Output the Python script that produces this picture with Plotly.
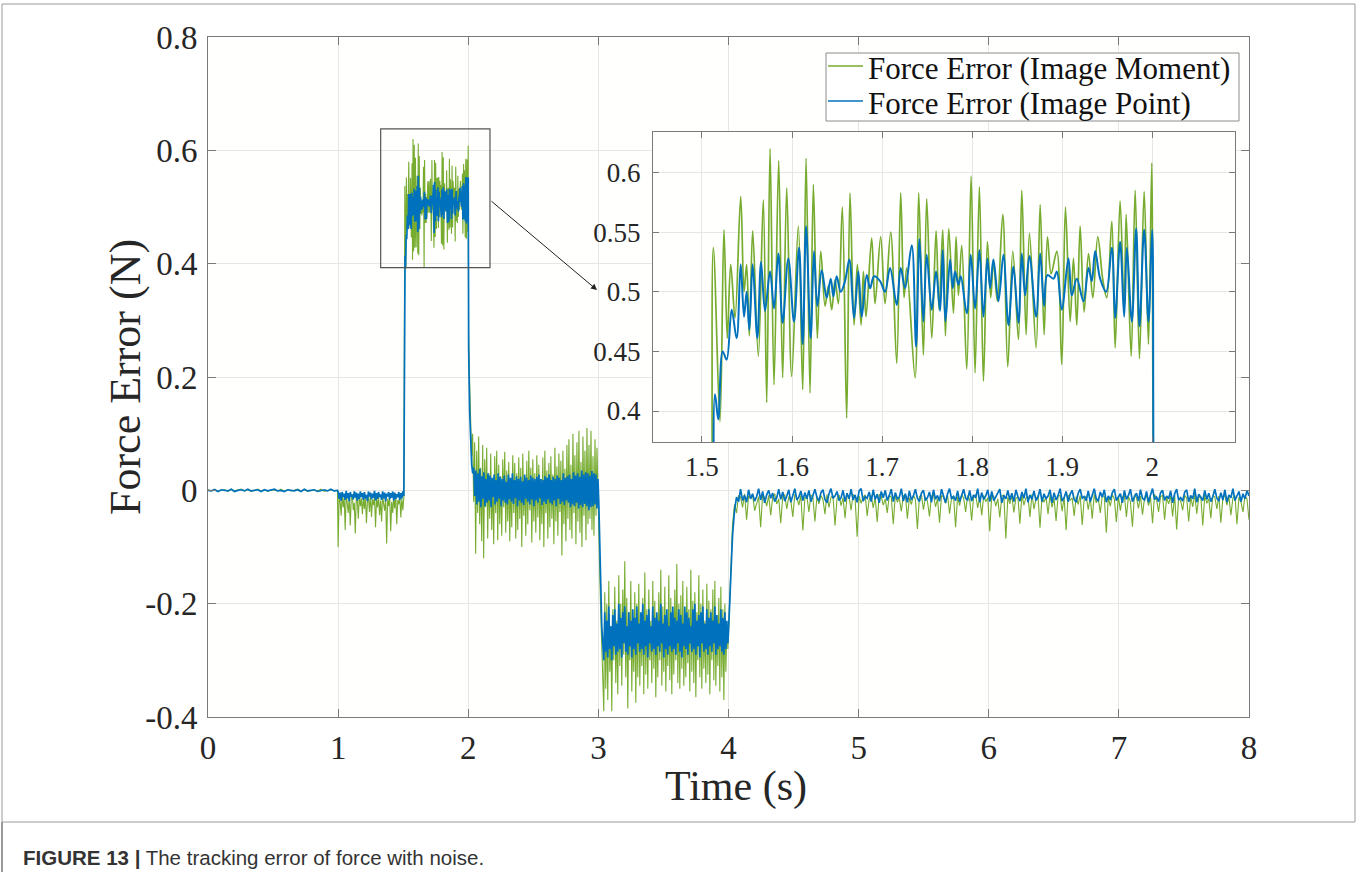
import numpy as np
import plotly.graph_objects as go

GREEN = "#77AC30"
BLUE = "#0072BD"

# ---------------- data (force error, in mN) ----------------
# Segment A: 0 - 1 s
green_A = [1,-1,2,-2,0,1,-2,2,-1,0,2,-1,1,-2,0,2,-1,1,-2,1,0,-1,2,-2,1,-1,0,2,-1,1,-2,0,1,-1,2,-2,0,1,-1,0]
blue_A = [0,-1,1,-2,1,0,-1,2,-2,0,1,-1,2,-1,0,1,-2,1,-1,0,2,-1,0,-2,1,0,-1,1,-2,2,-1,0,1,-2,0,1,-1,2,-1,0]

# Segment B: 1 - 1.505 s
green_B = [-100,-8,-20,-45,-6,-30,-12,-70,-5,-25,-40,-10,-62,-15,-8,-35,-22,-76,-9,-18,-50,-7,-28,-14,-42,-11,-33,-8,-58,-20,
           -12,-38,-6,-47,-16,-26,-9,-65,-13,-30,-10,-44,-18,-55,-7,-24,-36,-12,-94,-15,-28,-9,-72,-20,-40,-11,-32,-8,-60,-17,
           -25,-10,-48,-14,-35,-12]
blue_B = [-2,-15,-4,-18,-3,-12,-6,-17,-1,-14,-5,-19,-3,-11,-7,-16,-2,-13,-4,-18,-6,-15,-2,-12,-5,-17,-3,-14,-8,-19,
          -2,-11,-4,-16,-6,-13,-1,-18,-5,-15,-3,-12,-7,-17,-2,-14,-4,-19,-6,-11,-3,-16,-5,-13,-2,-18,-4,-15,-7,-12,
          -3,-17,-5,-14,-2,-10]

# Segment C: 1.5 - 2.0 s (times in ms after 1.5 s)
green_C_ms = [12.6,20.0,24.4,28.1,31.9,36.7,43.0,46.7,49.6,52.6,56.3,62.6,68.1,71.9,75.6,80.0,85.2,89.6,94.1,99.6,
              107.0,111.9,115.6,120.0,123.7,128.1,131.9,136.7,140.4,144.1,147.8,151.5,155.9,160.7,164.4,168.9,172.6,176.7,179.3,182.2,
              188.5,192.2,198.5,203.3,209.6,216.3,220.7,224.4,227.4,236.7,240.7,245.9,249.6,255.2,260.0,263.3,267.4,270.4,274.1,279.3,
              282.2,284.8,288.5,294.1,298.9,303.3,308.1,312.6,317.0,320.7,323.7,328.1,334.1,339.6,345.2,351.5,355.2,360.0,363.7,371.1,
              375.6,380.0,383.7,387.8,394.1,399.6,403.7,408.9,412.6,416.3,420.0,424.4,429.3,434.1,439.6,445.2,449.6,455.2,458.9,464.4,
              468.9,471.1,476.7,481.1,485.9,491.1,495.9,499.6]
green_C = [537,391,552,461,523,478,580,500,523,463,551,446,577,407,620,422,610,428,587,429,
           555,418,612,415,590,461,534,488,505,485,510,490,571,394,583,472,523,472,517,479,
           545,490,546,490,550,440,583,495,520,428,583,447,578,461,551,485,552,463,553,482,
           546,497,539,435,597,432,588,425,542,495,525,492,565,437,534,460,585,464,549,453,
           573,464,546,515,534,439,571,475,528,472,555,483,532,495,546,510,495,559,453,576,
           483,565,446,585,444,584,456,608]
blue_C_ms = [14.4,18.1,23.0,27.4,33.0,38.5,43.0,46.7,49.6,52.6,56.3,61.5,65.6,70.0,75.6,80.0,84.8,89.6,95.9,102.2,
             107.8,111.9,115.6,120.7,124.4,128.1,133.0,138.5,143.0,145.9,149.6,154.1,158.9,163.7,168.9,173.7,177.4,183.0,186.7,191.1,
             197.8,203.3,208.9,216.3,220.7,225.6,233.0,237.8,241.5,245.9,249.6,255.2,260.0,264.4,267.4,270.4,275.6,278.5,281.1,284.8,
             287.4,294.1,298.5,303.3,308.1,312.6,317.0,320.0,323.7,329.3,334.8,340.4,345.9,351.5,355.2,358.9,363.7,371.1,375.6,380.0,
             383.7,390.4,394.1,399.6,407.0,410.7,416.3,423.7,429.3,433.0,436.7,442.2,448.9,455.2,458.9,464.4,468.9,471.9,477.4,482.2,
             485.9,491.1,495.9,500.0]
blue_C = [414,393,450,443,485,461,523,479,500,468,523,461,525,484,517,486,532,474,528,475,
          537,456,555,461,534,488,518,495,511,496,513,500,509,527,478,517,479,514,503,513,
          509,500,520,489,520,503,539,454,544,475,531,485,517,484,535,475,527,503,517,506,
          513,482,531,486,535,479,528,503,527,492,531,472,521,474,532,497,530,479,532,488,
          514,511,517,485,528,497,511,492,520,509,534,511,500,537,478,542,479,537,475,553,
          471,552,475,552]

# Segment D: 2.0 - 3.0 s
green_D = [280,190,135,60,100,-20,85,-112,70,-40,95,-60,40,-90,80,-120,55,-30,75,-85,30,-50,65,-70,20,-95,60,-40,70,-88,
           45,-60,25,-80,55,-30,68,-75,35,-55,50,-90,20,-65,62,-40,48,-85,30,-70,58,-50,40,-100,65,-45,25,-80,52,-60,
           70,-35,40,-92,55,-55,30,-75,62,-48,45,-88,20,-60,58,-100,70,-40,35,-85,48,-65,60,-50,28,-95,75,-55,42,-80,
           65,-38,52,-115,70,-60,38,-90,80,-50,90,-70,45,-85,100,-40,62,-95,85,-55,105,-75,50,-100,95,-45,70,-88,110,-60,
           80,-50,105,-70,60,-80,90,-45,75,-30]
blue_D = [250,140,75,45,30,40,-10,35,-25,30,-20,38,-30,25,-15,32,-28,20,-22,30,-18,26,-30,22,-12,28,-25,18,-20,30,
          -15,24,-28,20,-18,26,-22,15,-25,28,-16,22,-20,30,-24,18,-14,25,-28,20,-18,24,-22,16,-26,28,-15,22,-20,18,
          -25,26,-16,22,-28,20,-18,24,-22,28,-14,20,-26,18,-20,25,-24,22,-16,28,-22,18,-25,24,-18,20,-28,26,-15,22,
          -24,18,-20,30,-26,22,-18,25,-22,28,-30,20,-25,32,-28,26,-22,30,-32,24,-26,35,-30,28,-24,32,-28,30,-35,26,
          -30,34,-28,30,-25,28,-32,20]

# Segment E: 3.0 - 4.0 s
green_E = [-60,-150,-220,-300,-330,-390,-180,-350,-200,-370,-160,-320,-240,-390,-210,-300,-170,-340,-230,-360,
           -150,-310,-200,-345,-175,-290,-125,-330,-190,-385,-215,-300,-160,-355,-240,-320,-180,-375,-200,-330,
           -165,-345,-220,-310,-190,-360,-145,-325,-210,-350,-175,-300,-230,-340,-160,-315,-195,-365,-220,-330,
           -180,-300,-140,-345,-205,-320,-170,-355,-225,-310,-150,-335,-190,-360,-215,-325,-175,-300,-130,-340,
           -200,-350,-185,-315,-160,-345,-225,-330,-170,-305,-210,-355,-140,-320,-195,-340,-180,-365,-215,-300,
           -150,-330,-200,-350,-175,-315,-230,-340,-165,-325,-195,-360,-210,-300,-175,-335,-160,-345,-220,-310,
           -190,-355,-170,-330,-210,-370,-200,-320,-240,-280]
blue_E = [-20,-110,-190,-240,-270,-300,-215,-285,-230,-295,-205,-280,-240,-300,-220,-275,-210,-290,-235,-285,
          -200,-280,-225,-295,-215,-270,-205,-285,-240,-290,-215,-275,-230,-295,-210,-280,-225,-290,-205,-270,
          -235,-285,-215,-280,-200,-290,-230,-275,-220,-295,-210,-270,-240,-285,-205,-280,-225,-290,-215,-275,
          -230,-285,-200,-270,-235,-295,-220,-280,-210,-290,-240,-275,-215,-285,-205,-280,-225,-290,-230,-270,
          -210,-285,-220,-295,-235,-275,-205,-280,-215,-290,-225,-270,-240,-285,-210,-280,-200,-290,-230,-275,
          -220,-295,-215,-270,-205,-285,-235,-280,-210,-290,-225,-275,-215,-285,-230,-270,-205,-290,-220,-280,
          -235,-275,-210,-285,-225,-290,-215,-280,-230,-270]

# Segment F: 4.0 - 8.0 s
green_F = [-250,-180,-60,-25,-40,-9,-12,-30,-6,-52,-10,-14,-8,-36,-22,-11,-65,-7,-13,-28,
           -9,-44,-12,-6,-24,-15,-58,-10,-8,-33,-11,-18,-47,-7,-12,-26,-9,-71,-14,-10,
           -38,-8,-13,-55,-11,-24,-9,-16,-42,-7,-30,-12,-10,-62,-15,-8,-27,-13,-49,-9,
           -11,-35,-7,-14,-82,-10,-23,-12,-8,-45,-16,-9,-31,-13,-56,-7,-11,-26,-15,-40,
           -9,-12,-60,-8,-21,-14,-37,-10,-7,-50,-13,-25,-9,-16,-68,-11,-8,-34,-12,-19,
           -46,-10,-7,-29,-15,-57,-9,-12,-23,-8,-41,-13,-10,-65,-11,-27,-7,-14,-38,-9,
           -16,-53,-10,-8,-31,-12,-44,-9,-20,-13,-72,-7,-11,-28,-15,-48,-10,-8,-85,-12,
           -24,-9,-39,-14,-11,-59,-8,-26,-13,-10,-47,-7,-33,-15,-9,-66,-12,-21,-11,-42,
           -8,-30,-14,-54,-10,-9,-37,-12,-70,-8,-18,-13,-45,-11,-25,-9,-61,-15,-10,-34,
           -12,-50,-7,-22,-14,-40,-9,-11,-75,-13,-28,-8,-15,-56,-10,-36,-12,-9,-47,-11,
           -20,-64,-8,-13,-32,-10,-43,-14,-9,-27,-12,-58,-7,-16,-38,-11,-9,-52,-13,-24,
           -10,-46,-8,-69,-12,-19,-35,-9,-14,-55,-11,-29,-7,-41,-13,-10,-62,-8,-23,-15,
           -49,-9,-12,-33,-10,-57,-14,-8,-26,-11,-44,-13,-9,-60,-12,-21,-38,-10,-15,-52]
blue_F = [-250,-170,-80,-35,-12,-20,2,-18,-9,-21,1,-15,-6,-19,-11,3,-17,-2,-22,-8,
          0,-14,-5,-20,-13,2,-16,-3,-19,-10,1,-21,-7,3,-17,-12,-1,-18,-4,-15,
          0,-20,-9,2,-12,-19,-4,1,-16,-22,-6,3,-14,-10,-2,-18,-13,0,-20,-5,
          -15,2,-17,-8,-21,-1,3,-19,-11,-14,-3,-20,1,-16,-7,-22,-2,-13,0,-18,
          -9,2,-20,-4,-15,-12,3,-19,-6,-21,-1,-17,-10,2,-14,-20,-5,0,-18,-13,
          -3,-21,1,-16,-9,-19,2,-12,-22,-6,3,-15,-11,-18,-1,-20,-7,2,-14,-17,
          0,-19,-8,-13,3,-21,-4,-16,-10,1,-20,-2,-18,-12,-6,2,-22,-9,-15,0,
          -17,-5,-20,1,-11,-19,-3,-14,3,-21,-8,-16,-1,-18,-12,2,-20,-6,-15,-10,
          1,-22,-4,-17,-9,3,-19,-13,-2,-20,-7,0,-16,-21,-5,2,-14,-11,-18,-1,
          -20,-8,3,-15,-19,-3,-12,1,-21,-10,-17,-4,2,-18,-13,-6,-22,0,-16,-9,
          2,-20,-11,-5,-19,1,-14,-17,-2,-21,-8,3,-16,-12,-20,-4,0,-18,-10,-15,
          -1,-22,-6,2,-17,-13,-19,-3,1,-20,-9,-15,3,-21,-7,-12,-18,0,-16,-5,
          -20,-11,2,-14,-19,-4,-17,1,-21,-8,-13,3,-18,-10,-2,-20,-6,-15,0,-10]

# ---------------- ticks & labels ----------------
x_tickvals = [0, 1, 2, 3, 4, 5, 6, 7, 8]
x_ticktext = ["0", "1", "2", "3", "4", "5", "6", "7", "8"]
y_tickvals = [-0.4, -0.2, 0, 0.2, 0.4, 0.6, 0.8]
y_ticktext = ["-0.4", "-0.2", "0", "0.2", "0.4", "0.6", "0.8"]
inset_x_tickvals = [1.5, 1.6, 1.7, 1.8, 1.9, 2.0]
inset_x_ticktext = ["1.5", "1.6", "1.7", "1.8", "1.9", "2"]
inset_y_tickvals = [0.4, 0.45, 0.5, 0.55, 0.6]
inset_y_ticktext = ["0.4", "0.45", "0.5", "0.55", "0.6"]
series_names = ["Force Error (Image Moment)", "Force Error (Image Point)"]
x_title = "Time (s)"
y_title = "Force Error (N)"
caption = "<b>FIGURE 13 |</b> The tracking error of force with noise."


def build(seg_A, seg_B, seg_C_ms, seg_C, seg_D, seg_E, seg_F):
    t = np.concatenate([
        np.linspace(0.0, 0.995, len(seg_A)),
        np.linspace(1.0, 1.505, len(seg_B)),
        1.5 + np.array(seg_C_ms) / 1000.0,
        np.linspace(2.003, 2.997, len(seg_D)),
        np.linspace(3.003, 3.995, len(seg_E)),
        np.linspace(4.0, 8.0, len(seg_F)),
    ])
    v = np.concatenate([seg_A, seg_B, seg_C, seg_D, seg_E, seg_F]).astype(float) / 1000.0
    return t, v


t_g, f_g = build(green_A, green_B, green_C_ms, green_C, green_D, green_E, green_F)
t_b, f_b = build(blue_A, blue_B, blue_C_ms, blue_C, blue_D, blue_E, blue_F)

W, H = 1357, 877


def px(x):
    return x / W


def py(y):
    return 1 - y / H


fig = go.Figure()
# main axes
fig.add_trace(go.Scatter(x=t_g, y=f_g, mode="lines", name=series_names[0],
                         line=dict(color=GREEN, width=1.1), xaxis="x", yaxis="y"))
fig.add_trace(go.Scatter(x=t_b, y=f_b, mode="lines", name=series_names[1],
                         line=dict(color=BLUE, width=1.7), xaxis="x", yaxis="y"))
# inset
fig.add_trace(go.Scatter(x=t_g, y=f_g, mode="lines", showlegend=False,
                         line=dict(color=GREEN, width=1.7, shape="spline", smoothing=1.0),
                         xaxis="x2", yaxis="y2"))
fig.add_trace(go.Scatter(x=t_b, y=f_b, mode="lines", showlegend=False,
                         line=dict(color=BLUE, width=2.0, shape="spline", smoothing=1.0),
                         xaxis="x2", yaxis="y2"))

AX = "#7a7a7a"
GRID = "#e6e6e6"
TXT = "#262626"
SERIF = "Liberation Serif"

common = dict(showline=True, linecolor=AX, linewidth=1, mirror="ticks", ticks="inside",
              tickcolor=AX, showgrid=True, gridcolor=GRID, gridwidth=1, zeroline=False,
              automargin=False)

fig.update_layout(
    width=W, height=H, autosize=False,
    margin=dict(l=0, r=0, t=0, b=0, pad=0, autoexpand=False),
    paper_bgcolor="white", plot_bgcolor="#fffffe",
    showlegend=False,
    font=dict(family=SERIF, color=TXT),
    xaxis=dict(domain=[px(208), px(1249)], range=[0, 8], anchor="y",
               tickmode="array", tickvals=x_tickvals, ticktext=x_ticktext,
               ticklen=8, tickfont=dict(size=33, family=SERIF, color=TXT),
               ticklabelstandoff=1, **common),
    yaxis=dict(domain=[py(717), py(37)], range=[-0.4, 0.8], anchor="x",
               tickmode="array", tickvals=y_tickvals, ticktext=y_ticktext,
               ticklen=8, tickfont=dict(size=33, family=SERIF, color=TXT),
               ticklabelstandoff=3, **common),
    xaxis2=dict(domain=[px(653), px(1235)], range=[1.4456, 2.092], anchor="y2",
                tickmode="array", tickvals=inset_x_tickvals, ticktext=inset_x_ticktext,
                ticklen=6, tickfont=dict(size=27, family=SERIF, color=TXT),
                ticklabelstandoff=1, **common),
    yaxis2=dict(domain=[py(442), py(132)], range=[0.374, 0.634], anchor="x2",
                tickmode="array", tickvals=inset_y_tickvals, ticktext=inset_y_ticktext,
                ticklen=6, tickfont=dict(size=27, family=SERIF, color=TXT),
                ticklabelstandoff=6, **common),
)

shapes = []
# zoom box on the main plot
shapes.append(dict(type="rect", xref="x", yref="y", x0=1.327, x1=2.167, y0=0.393, y1=0.638,
                   line=dict(color="#555555", width=1.2), fillcolor="rgba(0,0,0,0)", layer="above"))
# manual legend box and samples
shapes.append(dict(type="rect", xref="paper", yref="paper", x0=px(826), x1=px(1239), y0=py(121), y1=py(53),
                   line=dict(color="#8c8c8c", width=1), fillcolor="white", layer="above"))
shapes.append(dict(type="line", xref="paper", yref="paper", x0=px(828), x1=px(863), y0=py(66), y1=py(66),
                   line=dict(color=GREEN, width=1.5), layer="above"))
shapes.append(dict(type="line", xref="paper", yref="paper", x0=px(828), x1=px(863), y0=py(101), y1=py(101),
                   line=dict(color=BLUE, width=1.5), layer="above"))
# figure frame
shapes.append(dict(type="rect", xref="paper", yref="paper", x0=px(2), x1=px(1355), y0=py(822), y1=py(4),
                   line=dict(color="#9a9a9a", width=1), fillcolor="rgba(0,0,0,0)", layer="above"))
shapes.append(dict(type="line", xref="paper", yref="paper", x0=px(2), x1=px(2), y0=py(822), y1=py(872),
                   line=dict(color="#9a9a9a", width=2), layer="above"))
fig.update_layout(shapes=shapes)

annotations = [
    # axis titles
    dict(xref="paper", yref="paper", x=px(736), y=py(786), xanchor="center", yanchor="middle",
         text=x_title, showarrow=False, font=dict(size=42, family=SERIF, color=TXT)),
    dict(xref="paper", yref="paper", x=px(125), y=py(377), xanchor="center", yanchor="middle",
         text=y_title, textangle=-90, showarrow=False, font=dict(size=44, family=SERIF, color=TXT)),
    # legend texts
    dict(xref="paper", yref="paper", x=px(866), y=py(68), xanchor="left", yanchor="middle",
         text=series_names[0], showarrow=False, font=dict(size=31, family=SERIF, color="#111111")),
    dict(xref="paper", yref="paper", x=px(866), y=py(104), xanchor="left", yanchor="middle",
         text=series_names[1], showarrow=False, font=dict(size=31, family=SERIF, color="#111111")),
    # arrow from zoom box to inset
    dict(xref="paper", yref="paper", x=px(597), y=py(290), ax=-107, ay=-90, axref="pixel", ayref="pixel",
         showarrow=True, arrowhead=2, arrowsize=1.2, arrowwidth=1, arrowcolor="#222222", text=""),
    # caption
    dict(xref="paper", yref="paper", x=px(21), y=py(857), xanchor="left", yanchor="middle",
         text=caption, showarrow=False,
         font=dict(size=20.5, family="Liberation Sans", color="#333333")),
]
fig.update_layout(annotations=annotations)

fig.write_html(
    "out.html",
    config={"responsive": False, "displayModeBar": False},
    post_script="document.body.style.margin='0px';document.body.style.overflow='hidden';",
)
